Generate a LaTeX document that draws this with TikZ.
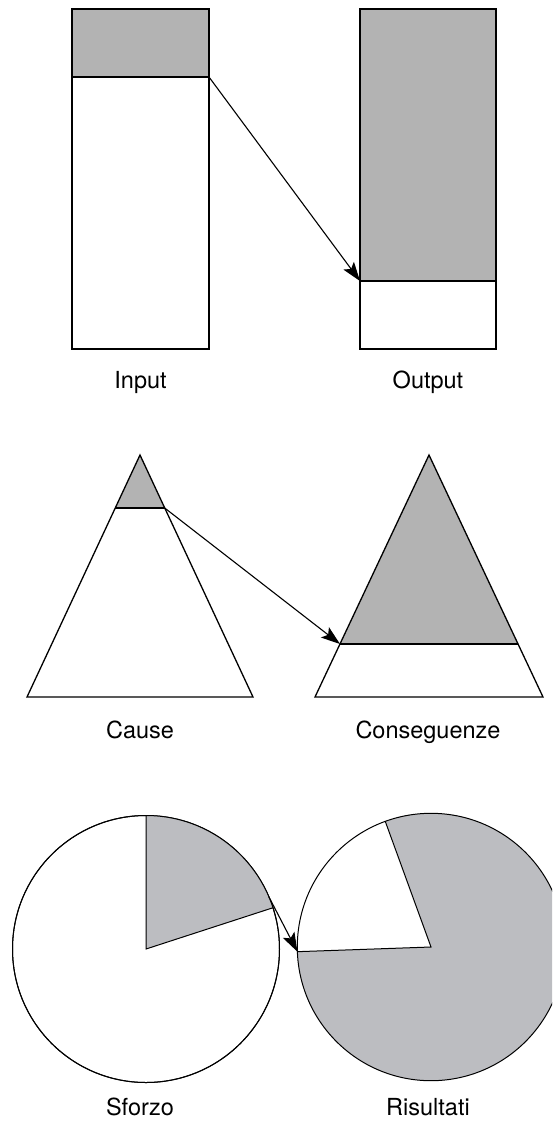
\documentclass[tikz,border=0pt]{standalone}
\usepackage{fontspec}
\setmainfont{TeX Gyre Heros}
\usetikzlibrary{arrows.meta}
\definecolor{boxgray}{RGB}{179,179,179}
\definecolor{piegray}{RGB}{188,189,193}
\tikzset{
  shapeline/.style={draw=black,line width=1.3pt},
  pieline/.style={draw=black,line width=1pt},
  conn/.style={draw=black,line width=1.1pt,-{Stealth[length=19pt,width=13pt,inset=4pt]}},
  lbl/.style={font=\fontsize{23.5}{28}\selectfont,anchor=base,inner sep=0pt}
}
\begin{document}
\begin{tikzpicture}[x=1pt,y=-1pt]
\fill[white] (0,0) rectangle (552,1122);
\useasboundingbox (0,0) rectangle (552,1122);
\clip (0,0) rectangle (552,1122);
% --- bars ---
\fill[boxgray] (72,9) rectangle (209,77);
\draw[shapeline] (72,9) rectangle (209,349);
\draw[shapeline] (72,77) -- (209,77);
\fill[boxgray] (360,9) rectangle (496,281);
\draw[shapeline] (360,9) rectangle (496,349);
\draw[shapeline] (360,281) -- (496,281);
\coordinate (inR) at (209,77);
\coordinate (outL) at (360,281);
\draw[conn] (inR) -- (outL);
\node[lbl] (input) at (140.5,388) {Input};
\node[lbl] (output) at (428,388) {Output};
% --- triangles ---
\fill[boxgray] (140,455) -- (115.3,508) -- (164.7,508) -- cycle;
\draw[shapeline,line join=miter] (140,455) -- (27,697) -- (253,697) -- cycle;
\draw[shapeline] (115.3,508) -- (164.7,508);
\fill[boxgray] (429,455) -- (340,644) -- (518,644) -- cycle;
\draw[shapeline,line join=miter] (429,455) -- (315,697) -- (543,697) -- cycle;
\draw[shapeline] (340,644) -- (518,644);
\coordinate (causeR) at (164.7,508);
\coordinate (consL) at (340,644);
\draw[conn] (causeR) -- (consL);
\node[lbl] (cause) at (140,738) {Cause};
\node[lbl] (cons) at (428,738) {Conseguenze};
% --- pies (y axis points down: visual angle t is written as -t) ---
\coordinate (c1) at (146,949);
\coordinate (c2) at (431,947);
\draw[pieline,fill=white] (c1) circle[radius=133.5];
\fill[piegray] (c1) -- ++(-18:133.5) arc[start angle=-18,end angle=-90,radius=133.5] -- cycle;
\draw[pieline] ([shift={(-90:133.5)}]c1) -- (c1) -- ++(-18:133.5);
\draw[pieline] (c1) circle[radius=133.5];
\fill[piegray] (c2) circle[radius=133.7];
\fill[white] (c2) -- ++(-110:133.7) arc[start angle=-110,end angle=-182,radius=133.7] -- cycle;
\draw[pieline] (c2) circle[radius=133.7];
\draw[pieline] ([shift={(-110:133.7)}]c2) -- (c2) -- ([shift={(-182:133.7)}]c2);
\coordinate (sfR) at ([shift={(-23:133.5)}]c1);
\coordinate (risL) at ([shift={(-182:133.7)}]c2);
\draw[conn] (sfR) -- (risL);
\node[lbl] (sforzo) at (140,1115) {Sforzo};
\node[lbl] (risultati) at (428,1115) {Risultati};
\end{tikzpicture}
\end{document}
